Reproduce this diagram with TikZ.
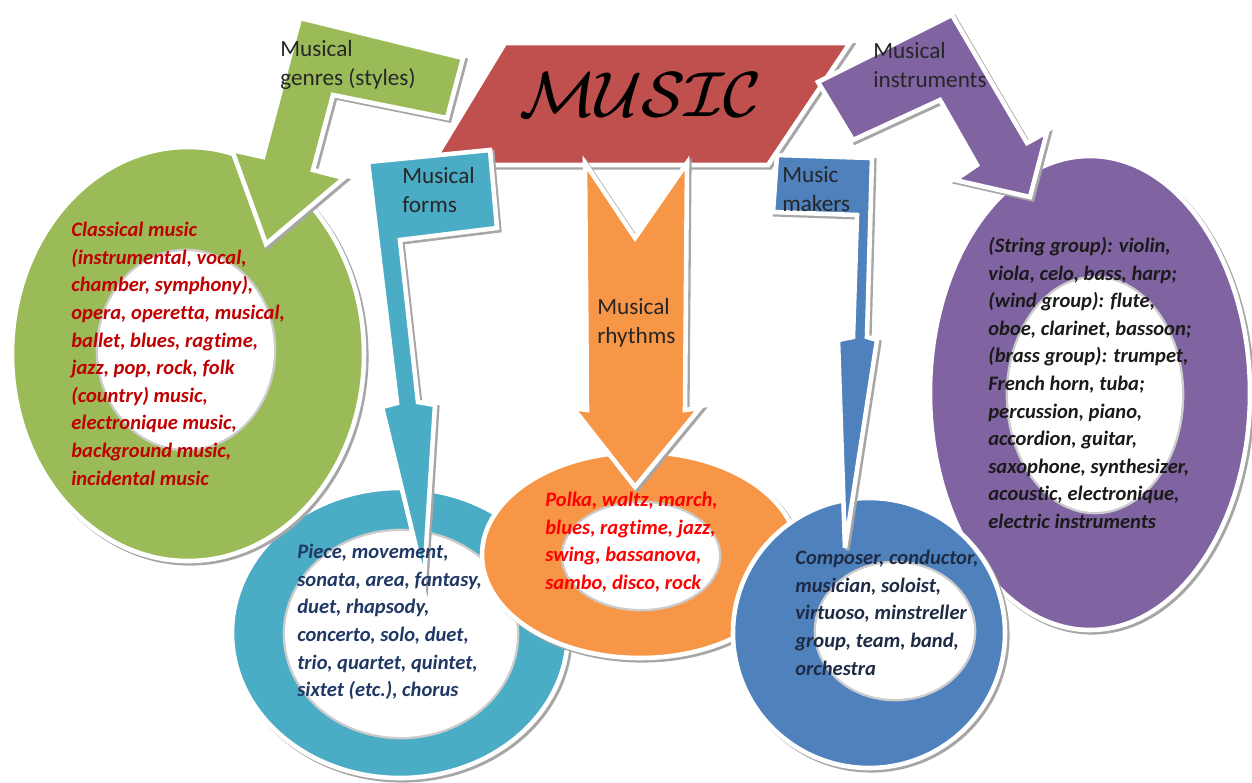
\documentclass[tikz,border=0pt]{standalone}
\usepackage{fontspec}
\setmainfont{Carlito}[Ligatures=CommonOff]
\definecolor{cgreen}{HTML}{9BBB59}
\definecolor{cred}{HTML}{C0504D}
\definecolor{cteal}{HTML}{4BACC6}
\definecolor{corange}{HTML}{F79646}
\definecolor{cblue}{HTML}{4F81BD}
\definecolor{cpurple}{HTML}{8064A2}
\definecolor{tdarkred}{HTML}{C00000}
\definecolor{tred}{HTML}{FF0000}
\definecolor{tnavy}{HTML}{1F3864}
\definecolor{tblue}{HTML}{1E2B45}
\definecolor{tdark}{HTML}{1A1A1A}
\newcommand{\musictitletext}{\fontsize{24.88}{28}\selectfont$\mathcal{MUSIC}$}
\begin{document}
\begin{tikzpicture}[x=0.02cm,y=-0.02cm,
  piece/.style={fill=#1, draw=white, line width=2.6pt, line join=miter,
    preaction={fill=black!35, draw=black!35, line width=2.6pt,
      transform canvas={xshift=1.3pt,yshift=-1.3pt}}},
  hole/.style={fill=white, draw=black!20, line width=1.5pt},
  holein/.style={draw=white, line width=1.6pt},
  titletext/.style={inner sep=0pt, scale=1.45},
  flaglabel/.style={font=\fontsize{13.2}{16.4}\selectfont, text=black!85, align=left, anchor=north west, inner sep=0pt},
  ringtext/.style={font=\fontsize{11.7}{15.7}\selectfont\bfseries\itshape, align=left, anchor=north west, inner sep=0pt},
]
\useasboundingbox (0,0) rectangle (1252,782);
\fill[white] (0,0) rectangle (1252,782);

% ---- rings (bottom to top) ----
% purple
\path[piece=cpurple] (1090,393) ellipse [x radius=160, y radius=237];
\path[hole] (1095,395) ellipse [x radius=88, y radius=118];
\path[holein] (1095,395) ellipse [x radius=85.5, y radius=115.5];
% teal
\path[piece=cteal] (400,633) ellipse [x radius=168, y radius=145];
\path[hole] (401,634) ellipse [x radius=117, y radius=104];
\path[holein] (401,634) ellipse [x radius=114.5, y radius=101.5];
% green
\path[piece=cgreen] (188,354) ellipse [x radius=176, y radius=207];
\path[hole] (186,350) ellipse [x radius=89, y radius=100];
\path[holein] (186,350) ellipse [x radius=86.5, y radius=97.5];
% orange
\path[piece=corange] (640,555) ellipse [x radius=158, y radius=103];
\path[hole] (641,556) ellipse [x radius=79, y radius=54];
\path[holein] (641,556) ellipse [x radius=76.5, y radius=51.5];
% blue
\path[piece=cblue] (869,633) ellipse [x radius=136, y radius=135];
\path[hole] (895,631) ellipse [x radius=80, y radius=69];
\path[holein] (895,631) ellipse [x radius=77.5, y radius=66.5];

% ---- title parallelogram ----
\path[piece=cred] (505,43) -- (850,43) -- (768,165) -- (431,165) -- cycle;
\node[titletext] (title) at (640,95) {\musictitletext};
\node[titletext] (titleb) at (640.8,95.3) {\musictitletext};

% ---- arrows ----
\path[piece=corange] (585,163) -- (635,238) -- (687,163) -- (685,410) -- (700,408)
  -- (635,487) -- (573,408) -- (587,410) -- cycle;
\path[piece=cgreen] (300,18) -- (463,58) -- (447,118) -- (333,95) -- (313,170)
  -- (344,178) -- (266,244) -- (232,150) -- (263,157) -- cycle;
\path[piece=cteal] (368,162) -- (490,150) -- (497,228) -- (400,240) -- (418,402)
  -- (435,405) -- (424,580) -- (382,407) -- (397,403) -- cycle;
\path[piece=cblue] (777,155) -- (872,158) -- (867,337) -- (877,340) -- (845,548)
  -- (838,340) -- (853,337) -- (857,215) -- (773,212) -- cycle;
\path[piece=cpurple] (818,82) -- (952,15) -- (1027,143) -- (1047,132) -- (1030,197)
  -- (955,180) -- (977,165) -- (940,100) -- (853,140) -- cycle;

% ---- flag labels ----
\node[flaglabel] (lgenres) at (280,40) {Musical\\genres (styles)};
\node[flaglabel] (linstr) at (873,42) {Musical\\instruments};
\node[flaglabel] (lforms) at (402,167) {Musical\\forms};
\node[flaglabel] (lrhythm) at (597,298) {Musical\\rhythms};
\node[flaglabel] (lmakers) at (782,166) {Music\\makers};

% ---- ring texts ----
\node[ringtext, text=tdarkred] (tgenres) at (71,222) {Classical music\\(instrumental, vocal,\\chamber, symphony),\\opera, operetta, musical,\\ballet, blues, ragtime,\\jazz, pop, rock, folk\\(country) music,\\electronique music,\\background music,\\incidental music};
\node[ringtext, text=tnavy] (tforms) at (297,544) {Piece, movement,\\sonata, area, fantasy,\\duet, rhapsody,\\concerto, solo, duet,\\trio, quartet, quintet,\\sixtet (etc.), chorus};
\node[ringtext, text=tred] (trhythm) at (545,492) {Polka, waltz, march,\\blues, ragtime, jazz,\\swing, bassanova,\\sambo, disco, rock};
\node[ringtext, text=tblue] (tmakers) at (795,550) {Composer, conductor,\\musician, soloist,\\virtuoso, minstreller\\group, team, band,\\orchestra};
\node[ringtext, text=tdark] (tinstr) at (988,237) {(String group): violin,\\viola, celo, bass, harp;\\(wind group): flute,\\oboe, clarinet, bassoon;\\(brass group): trumpet,\\French horn, tuba;\\percussion, piano,\\accordion, guitar,\\saxophone, synthesizer,\\acoustic, electronique,\\electric instruments};
\end{tikzpicture}
\end{document}
